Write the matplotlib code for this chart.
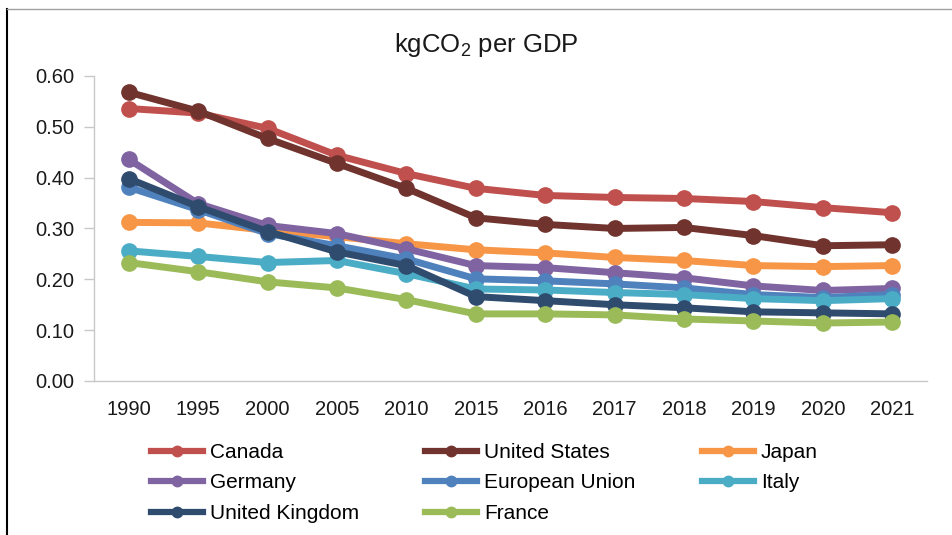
import matplotlib
matplotlib.use("Agg")
from matplotlib import pyplot as plt
from matplotlib.lines import Line2D

plt.rcParams['font.family'] = ['Liberation Sans', 'DejaVu Sans']
plt.rcParams['mathtext.fontset'] = 'custom'
plt.rcParams['mathtext.rm'] = 'Liberation Sans'
plt.rcParams['mathtext.it'] = 'Liberation Sans'

years = ['1990', '1995', '2000', '2005', '2010', '2015', '2016', '2017', '2018', '2019', '2020', '2021']

canada = [0.536, 0.527, 0.497, 0.444, 0.408, 0.379, 0.365, 0.361, 0.359, 0.353, 0.341, 0.331]
united_states = [0.568, 0.531, 0.477, 0.428, 0.379, 0.321, 0.308, 0.300, 0.302, 0.286, 0.266, 0.268]
japan = [0.312, 0.311, 0.296, 0.284, 0.270, 0.258, 0.252, 0.243, 0.237, 0.227, 0.225, 0.227]
germany = [0.436, 0.349, 0.306, 0.290, 0.260, 0.227, 0.223, 0.213, 0.203, 0.187, 0.178, 0.182]
european_union = [0.381, 0.337, 0.290, 0.266, 0.240, 0.201, 0.197, 0.191, 0.183, 0.170, 0.164, 0.170]
italy = [0.256, 0.245, 0.233, 0.237, 0.211, 0.181, 0.179, 0.174, 0.170, 0.162, 0.158, 0.162]
united_kingdom = [0.398, 0.343, 0.294, 0.254, 0.227, 0.166, 0.158, 0.150, 0.144, 0.136, 0.134, 0.132]
france = [0.233, 0.215, 0.195, 0.183, 0.160, 0.132, 0.132, 0.130, 0.122, 0.118, 0.114, 0.116]

series = [
    ('Canada', canada, '#c0504d'),
    ('United States', united_states, '#70332e'),
    ('Japan', japan, '#f79646'),
    ('Germany', germany, '#8064a2'),
    ('European Union', european_union, '#4f81bd'),
    ('Italy', italy, '#4bacc6'),
    ('United Kingdom', united_kingdom, '#2f4b6e'),
    ('France', france, '#9bbb59'),
]

fig = plt.figure(figsize=(9.53, 5.35), dpi=100)
ax = fig.add_axes([0.0986, 0.2879, 0.8741, 0.5701])

x = list(range(len(years)))
handles = {}
for name, vals, col in series:
    ax.plot(x, vals, color=col, lw=5, marker='o', ms=11, solid_capstyle='round')
    handles[name] = Line2D([], [], color=col, lw=4.5, marker='o', ms=7.5)

ax.set_xlim(-0.5, len(years) - 0.5)
ax.set_ylim(0, 0.6)
ax.set_yticks([0, 0.1, 0.2, 0.3, 0.4, 0.5, 0.6])
ax.set_yticklabels(['%.2f' % v for v in [0, 0.1, 0.2, 0.3, 0.4, 0.5, 0.6]])
ax.set_xticks(x)
ax.set_xticklabels(years)
for s in ['top', 'right']:
    ax.spines[s].set_visible(False)
for s in ['left', 'bottom']:
    ax.spines[s].set_color('#c8c8c8')
    ax.spines[s].set_linewidth(1)
ax.tick_params(axis='y', length=7, width=1, color='#c8c8c8', pad=7, labelsize=14.5, labelcolor='#1a1a1a')
ax.tick_params(axis='x', length=0, pad=14, labelsize=14.5, labelcolor='#1a1a1a')

fig.text(0.51, 0.916, 'kgCO$_2$ per GDP', ha='center', va='center', fontsize=18.5, color='#1a1a1a')

order = ['Canada', 'Germany', 'United Kingdom', 'United States', 'European Union', 'France', 'Japan', 'Italy']
fig.legend([handles[n] for n in order], order, ncol=3, loc='upper left',
           bbox_to_anchor=(151 / 953, 1 - 443 / 535), frameon=False, fontsize=15,
           borderpad=0, borderaxespad=0, handlelength=2.5, handletextpad=0.35,
           labelspacing=0.55, columnspacing=3.15)

# border of the original screenshot
fig.add_artist(Line2D([7 / 953, 7 / 953], [0, 1 - 9 / 535], transform=fig.transFigure, color='black', lw=1.5))
fig.add_artist(Line2D([7 / 953, 1], [1 - 9 / 535, 1 - 9 / 535], transform=fig.transFigure, color='#a0a0a0', lw=1))

fig.savefig('out.png', dpi=100)
